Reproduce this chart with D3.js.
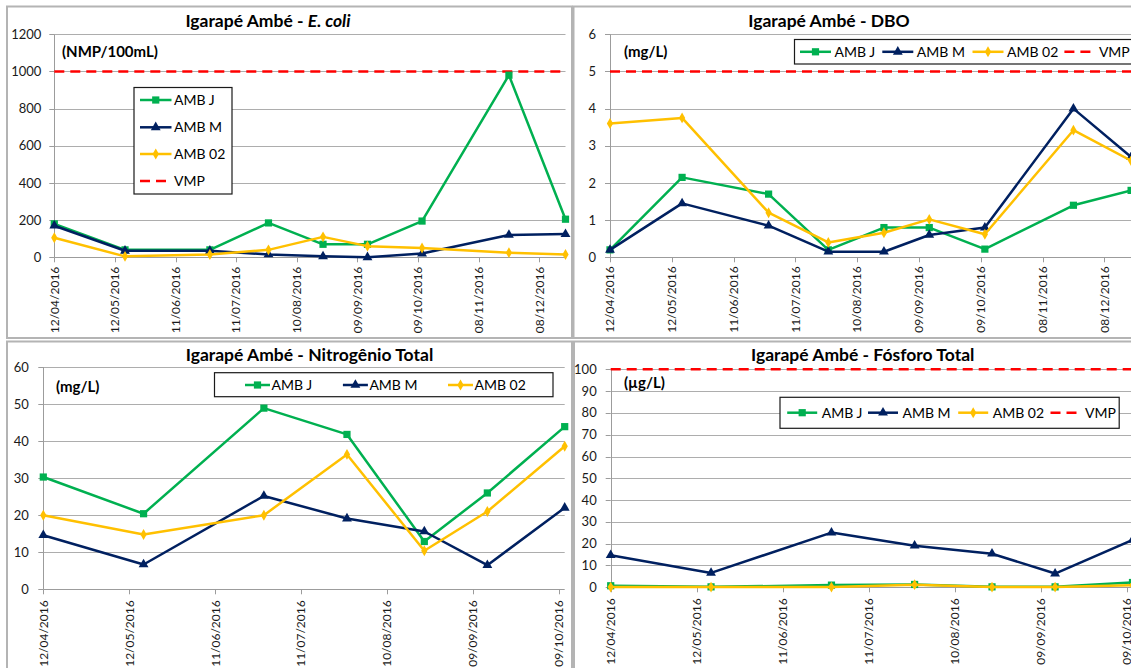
<!DOCTYPE html>
<html lang="pt">
<head>
<meta charset="UTF-8">
<title>Igarapé Ambé</title>
<script src="https://cdn.jsdelivr.net/npm/d3@7"></script>
<style>
    body { margin: 0; background: #fff; }
    svg { display: block; font-family: Lato, "Open Sans", sans-serif; }
    .frame { fill: #fff; stroke: #b4b4b4; stroke-width: 2; }
    .grid { stroke: #adadad; stroke-width: 1; }
    .axis-line { stroke: #9c9c9c; stroke-width: 1; }
    .ytick { font-size: 13px; fill: #1a1a1a; }
    .xtick { font-size: 12px; fill: #1a1a1a; }
    .title { font-size: 17.5px; font-weight: bold; fill: #000; }
    .unit { font-size: 15px; font-weight: bold; fill: #000; }
    .legend-box { fill: #fff; stroke: #1a1a1a; stroke-width: 1.2; }
    .legend-text { font-size: 14px; fill: #000; }
    .series { fill: none; stroke-width: 2.5; stroke-linejoin: round; }
    .vmp { stroke: #ff0000; stroke-width: 2.6; stroke-dasharray: 10 6; }
</style>
</head>
<body>
<script>
    // sampling dates (Excel date axis: min = first sample, max = last sample)
    const sampleDates = ["12/04/2016", "17/05/2016", "28/06/2016", "27/07/2016", "23/08/2016",
        "14/09/2016", "11/10/2016", "23/11/2016", "21/12/2016"];
    const tickLabels = ["12/04/2016", "12/05/2016", "11/06/2016", "11/07/2016", "10/08/2016",
        "09/09/2016", "09/10/2016", "08/11/2016", "08/12/2016"];

    const seriesNames = ["AMB J", "AMB M", "AMB 02"];
    const seriesColors = ["#00b050", "#002060", "#ffc000"];
    const vmpName = "VMP";

    // E. coli (NMP/100mL)
    const ecoliJ = [180, 40, 40, 185, 70, 70, 195, 980, 205];
    const ecoliM = [170, 35, 35, 15, 5, 0, 20, 120, 125];
    const ecoli02 = [105, 5, 15, 40, 110, 60, 50, 25, 15];

    // DBO (mg/L)
    const dboJ = [0.2, 2.15, 1.7, 0.2, 0.8, 0.8, 0.22, 1.4, 1.8];
    const dboM = [0.2, 1.45, 0.85, 0.15, 0.15, 0.6, 0.8, 4.0, 2.7];
    const dbo02 = [3.6, 3.75, 1.2, 0.4, 0.66, 1.02, 0.62, 3.42, 2.6];

    // Nitrogênio total (mg/L) - only 7 samples
    const ntJ = [30.3, 20.4, 48.9, 41.8, 12.9, 26, 43.9];
    const ntM = [14.6, 6.7, 25.2, 19.1, 15.6, 6.5, 22];
    const nt02 = [20, 14.8, 20, 36.4, 10.4, 21, 38.6];

    // Fósforo total (ug/L)
    const ptJ = [0.7, 0.2, 1.0, 1.3, 0.2, 0.2, 2.2];
    const ptM = [14.7, 6.6, 25.1, 19.1, 15.4, 6.3, 21.7];
    const pt02 = [0.1, 0.1, 0.1, 1.2, 0.1, 0.1, 1.0];

    const parse = d3.utcParse("%d/%m/%Y");

    const panels = [
        {
            title: ["Igarapé Ambé - ", "E. coli"], unit: "(NMP/100mL)",
            series: [ecoliJ, ecoliM, ecoli02], yMax: 1200, yStep: 200, vmp: 1000,
            frame: [7, 6.5, 565, 331.5], plot: [54.3, 565.5, 34.3, 257.3],
            titleAt: [268, 27], unitAt: [62, 57], labelGap: 9.4, yLabelGap: 13,
            legend: {box: [134, 87.5, 98, 106.5], vertical: true,
                x: 140, ys: [100, 127.3, 154, 181], len: 31.5, gap: 2.5}
        },
        {
            title: ["Igarapé Ambé - DBO"], unit: "(mg/L)",
            series: [dboJ, dboM, dbo02], yMax: 6, yStep: 1, vmp: 5,
            frame: [573.5, 6.5, 600, 331.5], plot: [610, 1131.1, 34.3, 257.3],
            titleAt: [829, 27], unitAt: [624, 57], labelGap: 9, yLabelGap: 14,
            legend: {box: [794.5, 39.5, 400, 24.5], vertical: false,
                xs: [800, 882.3, 972.5, 1064.4], y: 51.8, len: 31, gap: 3.5}
        },
        {
            title: ["Igarapé Ambé - Nitrogênio Total"], unit: "(mg/L)",
            series: [ntJ, ntM, nt02], yMax: 60, yStep: 10, vmp: null,
            frame: [7, 341.5, 565, 400], plot: [43.3, 564.7, 367, 589.3],
            titleAt: [309.5, 361], unitAt: [56, 392], labelGap: 11, yLabelGap: 14.5,
            legend: {box: [214.5, 372.7, 338.5, 24], vertical: false,
                xs: [245, 342.9, 448], y: 385, len: 25, gap: 1.5}
        },
        {
            title: ["Igarapé Ambé - Fósforo Total"], unit: "(µg/L)",
            series: [ptJ, ptM, pt02], yMax: 100, yStep: 10, vmp: 100,
            frame: [574, 341.5, 600, 400], plot: [610.7, 1132.5, 369.3, 587.3],
            titleAt: [862.7, 361], unitAt: [624, 388], labelGap: 11, yLabelGap: 14,
            legend: {box: [780, 397.3, 339.2, 31], vertical: false,
                xs: [787.2, 868, 958.2, 1050.5], y: 412.7, len: 30, gap: 4.5}
        }
    ];

    const symbols = [
        d3.symbol().type(d3.symbolSquare).size(52),
        d3.symbol().type(d3.symbolTriangle).size(42),
        d3.symbol().type(d3.symbolDiamond).size(34)
    ];

    const svg = d3.select("body").append("svg")
        .attr("width", 1131)
        .attr("height", 668);

    panels.forEach(drawPanel);

    function drawPanel(p) {
        const g = svg.append("g");
        const [fx, fy, fw, fh] = p.frame;
        g.append("rect").attr("class", "frame")
            .attr("x", fx).attr("y", fy).attr("width", fw).attr("height", fh);

        const n = p.series[0].length;
        const dates = sampleDates.slice(0, n).map(parse);
        const [x0, x1, yTop, yBottom] = p.plot;

        const x = d3.scaleUtc().domain([dates[0], dates[n - 1]]).range([x0, x1]);
        const y = d3.scaleLinear().domain([0, p.yMax]).range([yBottom, yTop]);

        const yTicks = d3.range(0, p.yMax + p.yStep / 2, p.yStep);
        const xTicks = tickLabels.map(parse).filter(d => d <= dates[n - 1]);

        // gridlines
        g.selectAll("line.grid").data(yTicks.slice(1)).enter().append("line")
            .attr("class", "grid")
            .attr("x1", x0).attr("x2", x1)
            .attr("y1", d => Math.round(y(d)) + 0.5).attr("y2", d => Math.round(y(d)) + 0.5);

        // axes
        g.append("line").attr("class", "axis-line")
            .attr("x1", Math.round(x0) + 0.5).attr("x2", Math.round(x0) + 0.5)
            .attr("y1", yTop).attr("y2", yBottom);
        g.append("line").attr("class", "axis-line")
            .attr("x1", x0).attr("x2", x1)
            .attr("y1", Math.round(yBottom) + 0.5).attr("y2", Math.round(yBottom) + 0.5);

        g.selectAll("line.yt").data(yTicks).enter().append("line")
            .attr("class", "axis-line yt")
            .attr("x1", x0 - 5).attr("x2", x0)
            .attr("y1", d => Math.round(y(d)) + 0.5).attr("y2", d => Math.round(y(d)) + 0.5);
        g.selectAll("text.ytick").data(yTicks).enter().append("text")
            .attr("class", "ytick")
            .attr("x", x0 - p.yLabelGap)
            .attr("y", d => y(d))
            .attr("dy", "0.35em")
            .attr("text-anchor", "end")
            .text(d => d);

        g.selectAll("line.xt").data(xTicks).enter().append("line")
            .attr("class", "axis-line xt")
            .attr("x1", d => Math.round(x(d)) + 0.5).attr("x2", d => Math.round(x(d)) + 0.5)
            .attr("y1", yBottom).attr("y2", yBottom + 5);
        const fmt = d3.utcFormat("%d/%m/%Y");
        g.selectAll("text.xtick").data(xTicks).enter().append("text")
            .attr("class", "xtick")
            .attr("transform", d => "translate(" + x(d) + "," + (yBottom + p.labelGap) + ") rotate(-90)")
            .attr("dy", "0.36em")
            .attr("text-anchor", "end")
            .text(d => fmt(d));

        // VMP limit
        if (p.vmp !== null) {
            g.append("line").attr("class", "vmp")
                .attr("x1", x0).attr("x2", x1)
                .attr("y1", y(p.vmp)).attr("y2", y(p.vmp));
        }

        // series
        const line = d3.line().x((d, i) => x(dates[i])).y(d => y(d));
        p.series.forEach(function (vals, k) {
            g.append("path").attr("class", "series")
                .attr("d", line(vals))
                .style("stroke", seriesColors[k]);
            g.selectAll("path.m" + k).data(vals).enter().append("path")
                .attr("class", "m" + k)
                .attr("transform", (d, i) => "translate(" + x(dates[i]) + "," + y(d) + ")")
                .attr("d", symbols[k]())
                .style("fill", seriesColors[k]);
        });

        // title
        const t = g.append("text").attr("class", "title")
            .attr("x", p.titleAt[0]).attr("y", p.titleAt[1])
            .attr("text-anchor", "middle");
        t.append("tspan").text(p.title[0]);
        if (p.title[1]) t.append("tspan").style("font-style", "italic").text(p.title[1]);

        g.append("text").attr("class", "unit")
            .attr("x", p.unitAt[0]).attr("y", p.unitAt[1])
            .text(p.unit);

        drawLegend(g, p);
    }

    function drawLegend(g, p) {
        const L = p.legend;
        g.append("rect").attr("class", "legend-box")
            .attr("x", L.box[0]).attr("y", L.box[1])
            .attr("width", L.box[2]).attr("height", L.box[3]);

        const names = seriesNames.slice();
        if (p.vmp !== null) names.push(vmpName);

        names.forEach(function (name, k) {
            const lx = L.vertical ? L.x : L.xs[k];
            const ly = L.vertical ? L.ys[k] : L.y;
            if (k < 3) {
                g.append("line").attr("class", "series")
                    .attr("x1", lx).attr("x2", lx + L.len)
                    .attr("y1", ly).attr("y2", ly)
                    .style("stroke", seriesColors[k]);
                g.append("path")
                    .attr("transform", "translate(" + (lx + L.len / 2) + "," + ly + ")")
                    .attr("d", symbols[k]())
                    .style("fill", seriesColors[k]);
            } else {
                g.append("line").attr("class", "vmp")
                    .attr("x1", lx).attr("x2", lx + L.len)
                    .attr("y1", ly).attr("y2", ly);
            }
            g.append("text").attr("class", "legend-text")
                .attr("x", lx + L.len + L.gap).attr("y", ly)
                .attr("dy", "0.36em")
                .text(name);
        });
    }
</script>
</body>
</html>
